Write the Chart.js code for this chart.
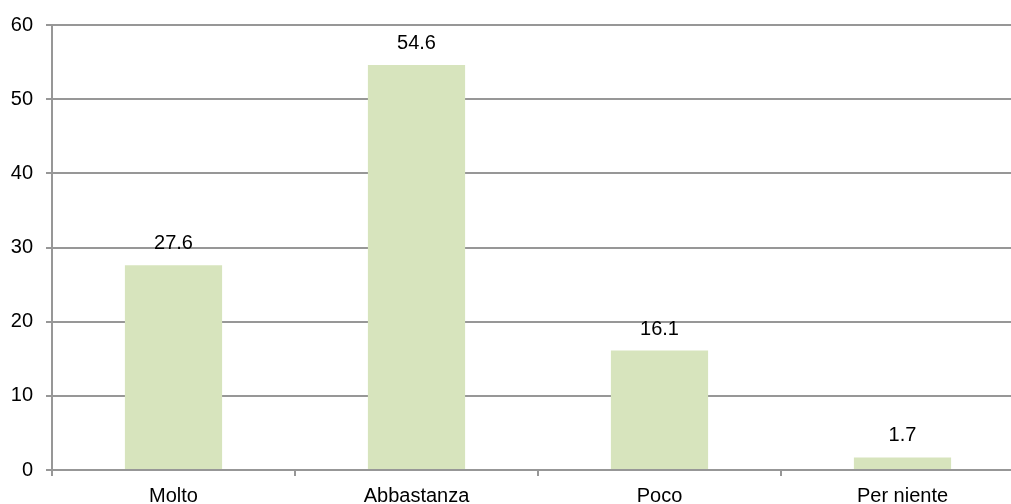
<!DOCTYPE html>
<html>
<head>
<meta charset="utf-8">
<script src="https://cdn.jsdelivr.net/npm/chart.js@4.4.1/dist/chart.umd.min.js"></script>
<style>
  html, body { margin: 0; padding: 0; background: #ffffff; overflow: hidden; }
  #wrap { width: 1030px; height: 504px; }
</style>
</head>
<body>
<div id="wrap"><canvas id="c" width="1030" height="504"></canvas></div>
<script>
const categories = ['Molto', 'Abbastanza', 'Poco', 'Per niente'];
const values = [27.6, 54.6, 16.1, 1.7];
const yTicks = [0, 10, 20, 30, 40, 50, 60];

const gridColor = '#979797';
const font = { family: 'Liberation Sans, Arial, sans-serif', size: 20 };

// Value labels drawn above each bar
const valueLabels = {
  id: 'valueLabels',
  afterDatasetsDraw(chart) {
    const ctx = chart.ctx;
    const meta = chart.getDatasetMeta(0);
    ctx.save();
    ctx.font = `${font.size}px ${font.family}`;
    ctx.fillStyle = '#000000';
    ctx.textAlign = 'center';
    ctx.textBaseline = 'alphabetic';
    meta.data.forEach((bar, i) => {
      ctx.fillText(values[i].toFixed(1), bar.x, bar.y - 16);
    });
    ctx.restore();
  }
};

new Chart(document.getElementById('c'), {
  type: 'bar',
  data: {
    labels: categories,
    datasets: [{
      data: values,
      backgroundColor: '#d7e4bd',
      borderWidth: 0,
      barPercentage: 0.4,
      categoryPercentage: 1.0
    }]
  },
  options: {
    responsive: false,
    animation: false,
    devicePixelRatio: 1,
    layout: { padding: { top: 24, right: 6, left: 0, bottom: 0 } },
    plugins: { legend: { display: false }, tooltip: { enabled: false } },
    scales: {
      x: {
        offset: true,
        afterFit(axis) { axis.height = 34; },
        grid: {
          display: true,
          offset: true,
          drawOnChartArea: false,
          drawTicks: true,
          tickLength: 6,
          color: gridColor,
          lineWidth: 2
        },
        border: { display: true, color: gridColor, width: 2 },
        ticks: { color: '#000000', font: font, padding: 8, maxRotation: 0 }
      },
      y: {
        min: 0,
        max: 60,
        afterBuildTicks(axis) { axis.ticks = yTicks.map(v => ({ value: v })); },
        afterFit(axis) { axis.width = 52; },
        grid: {
          color: gridColor,
          lineWidth: 2,
          drawTicks: true,
          tickLength: 6
        },
        border: { display: true, color: gridColor, width: 2 },
        ticks: { color: '#000000', font: font, padding: 13 }
      }
    }
  },
  plugins: [valueLabels]
});
</script>
</body>
</html>
